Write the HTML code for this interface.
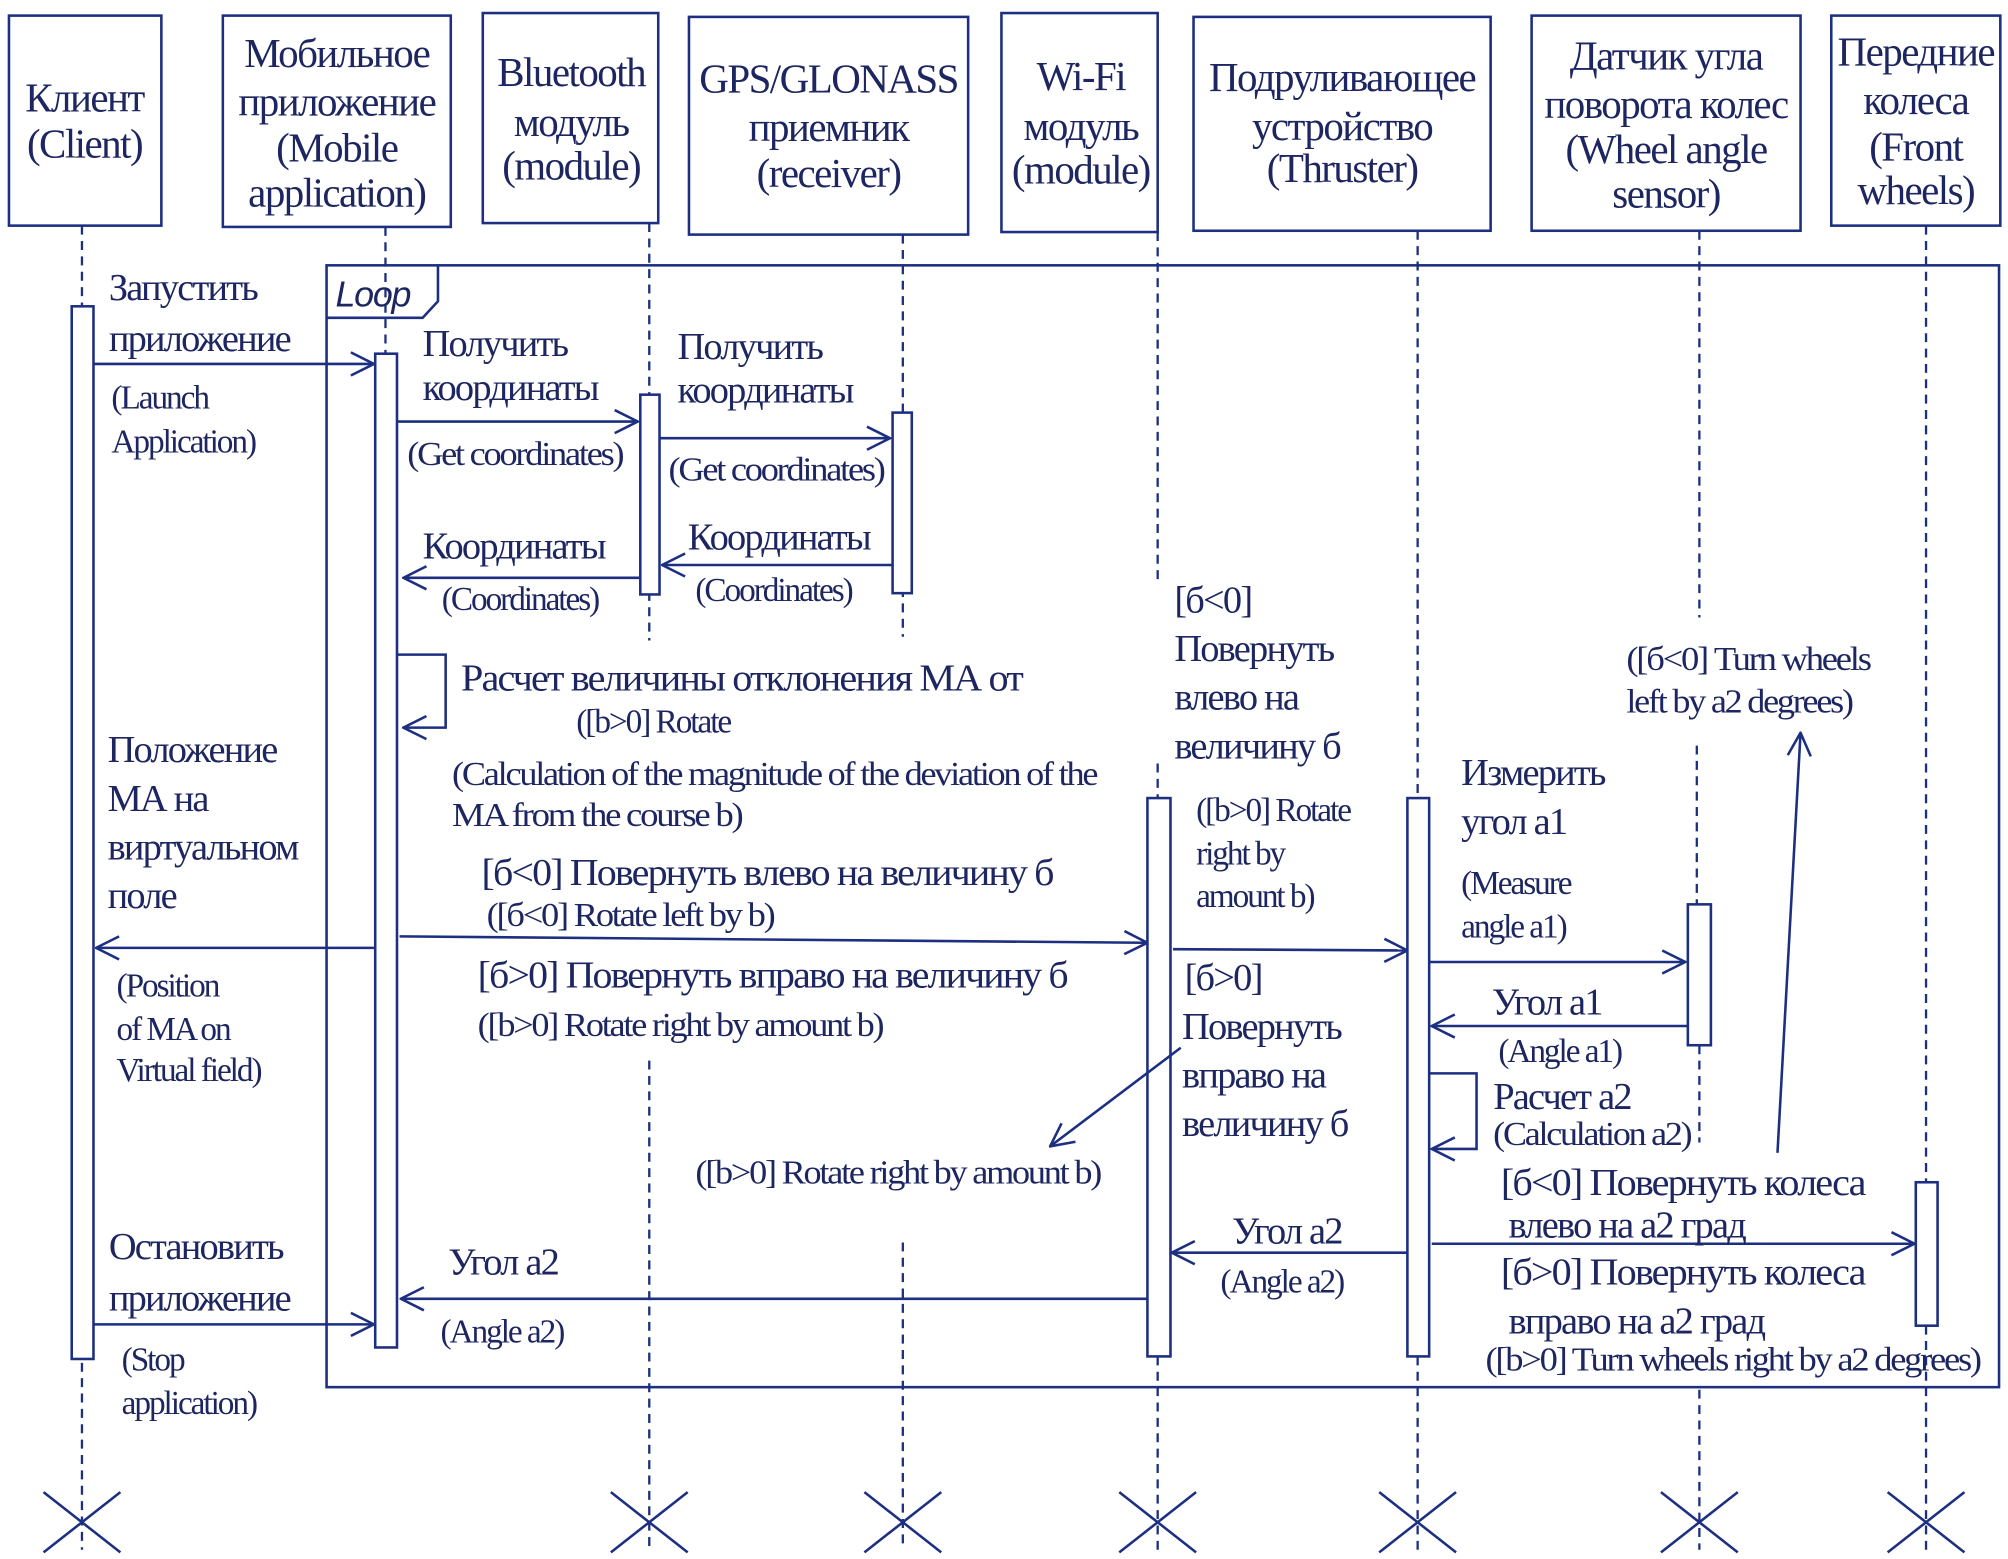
<!DOCTYPE html>
<html><head><meta charset="utf-8"><style>
html,body{margin:0;padding:0;background:#fff;}
svg{display:block;}
text{font-family:"Liberation Serif","Noto Serif CJK SC",serif;fill:#1d2660;font-size:30px;letter-spacing:-1.4px;}
.s{font-size:26px;letter-spacing:-1.6px;}
.h{font-size:32px;letter-spacing:-1.2px;}
.c{text-anchor:middle;}
</style></head><body>
<svg width="2008" height="1559" viewBox="0 0 1568 1217" xmlns="http://www.w3.org/2000/svg">
<defs>
<marker id="a" viewBox="0 0 20 20" refX="19" refY="10" markerWidth="20" markerHeight="20" markerUnits="userSpaceOnUse" orient="auto">
<path d="M1,1 L19,10 L1,19" fill="none" stroke="#1c2f80" stroke-width="2"/></marker>
</defs>
<g fill="none" stroke="#1c2f80" stroke-width="2">
<g stroke-dasharray="7,5" stroke-width="1.8">
<line x1="64" y1="176" x2="64" y2="1210"/>
<line x1="301" y1="177" x2="301" y2="276"/>
<line x1="507" y1="174" x2="507" y2="500"/><line x1="507" y1="828" x2="507" y2="1210"/>
<line x1="705" y1="183" x2="705" y2="497"/><line x1="705" y1="970" x2="705" y2="1210"/>
<line x1="904" y1="181" x2="904" y2="455"/><line x1="904" y1="596" x2="904" y2="623"/><line x1="904" y1="1059" x2="904" y2="1210"/>
<line x1="1107" y1="180" x2="1107" y2="623"/><line x1="1107" y1="1059" x2="1107" y2="1210"/>
<line x1="1327" y1="180" x2="1327" y2="482"/><line x1="1325" y1="582" x2="1325" y2="706"/><line x1="1327" y1="816" x2="1327" y2="892"/><line x1="1327" y1="1085" x2="1327" y2="1210"/>
<line x1="1504" y1="176" x2="1504" y2="923"/><line x1="1504" y1="1035" x2="1504" y2="1210"/>
</g>
<rect x="7" y="12" width="119" height="164"/>
<rect x="174" y="12" width="178" height="165"/>
<rect x="377" y="10" width="137" height="164"/>
<rect x="538" y="13" width="218" height="170"/>
<rect x="782" y="10" width="122" height="171"/>
<rect x="932" y="13" width="232" height="167"/>
<rect x="1196" y="12" width="210" height="168"/>
<rect x="1430" y="12" width="132" height="164"/>
<rect x="255" y="207" width="1306" height="876"/>
<path d="M255,248 L330,248 L342,235 L342,207"/>
<g fill="#fff">
<rect x="56" y="239" width="17" height="822"/>
<rect x="293" y="276" width="17" height="776"/>
<rect x="500" y="308" width="15" height="156"/>
<rect x="697" y="322" width="15" height="141"/>
<rect x="896" y="623" width="18" height="436"/>
<rect x="1099" y="623" width="17" height="436"/>
<rect x="1318" y="706" width="18" height="110"/>
<rect x="1496" y="923" width="17" height="112"/>
</g>
<g marker-end="url(#a)">
<line x1="73" y1="284" x2="292" y2="284"/>
<line x1="310" y1="329" x2="498" y2="329"/>
<line x1="515" y1="342" x2="695" y2="342"/>
<line x1="697" y1="441" x2="517" y2="441"/>
<line x1="500" y1="451" x2="315" y2="451"/>
<path d="M310,511 L348,511 L348,568 L315,568"/>
<line x1="292" y1="740" x2="75" y2="740"/>
<line x1="312" y1="731" x2="896" y2="736"/>
<line x1="916" y1="741" x2="1099" y2="742"/>
<line x1="1116" y1="751" x2="1316" y2="751"/>
<line x1="1318" y1="801" x2="1118" y2="801"/>
<path d="M1116,838 L1153,838 L1153,897 L1118,897"/>
<line x1="922" y1="818" x2="820" y2="895"/>
<line x1="1388" y1="900" x2="1406" y2="572"/>
<line x1="1118" y1="971" x2="1495" y2="971"/>
<line x1="1099" y1="978" x2="915" y2="978"/>
<line x1="896" y1="1014" x2="313" y2="1014"/>
<line x1="73" y1="1034" x2="292" y2="1034"/>
</g>
<g>
<path d="M34,1165 L94,1212 M94,1165 L34,1212"/>
<path d="M477,1165 L537,1212 M537,1165 L477,1212"/>
<path d="M675,1165 L735,1212 M735,1165 L675,1212"/>
<path d="M874,1165 L934,1212 M934,1165 L874,1212"/>
<path d="M1077,1165 L1137,1212 M1137,1165 L1077,1212"/>
<path d="M1297,1165 L1357,1212 M1357,1165 L1297,1212"/>
<path d="M1474,1165 L1534,1212 M1534,1165 L1474,1212"/>
</g>
</g>
<g class="h">
<text class="c h" x="66" y="87">Клиент</text><text class="c h" x="66" y="123">(Client)</text>
<text class="c h" x="263" y="52">Мобильное</text><text class="c h" x="263" y="90">приложение</text><text class="c h" x="263" y="126">(Mobile</text><text class="c h" x="263" y="161">application)</text>
<text class="c h" x="446" y="67">Bluetooth</text><text class="c h" x="446" y="106">модуль</text><text class="c h" x="446" y="140">(module)</text>
<text class="c h" x="647" y="72">GPS/GLONASS</text><text class="c h" x="647" y="110">приемник</text><text class="c h" x="647" y="146">(receiver)</text>
<text class="c h" x="844" y="70">Wi-Fi</text><text class="c h" x="844" y="109">модуль</text><text class="c h" x="844" y="143">(module)</text>
<text class="c h" x="1048" y="71">Подруливающее</text><text class="c h" x="1048" y="109">устройство</text><text class="c h" x="1048" y="142">(Thruster)</text>
<text class="c h" x="1301" y="54">Датчик угла</text><text class="c h" x="1301" y="92">поворота колес</text><text class="c h" x="1301" y="127">(Wheel angle</text><text class="c h" x="1301" y="162">sensor)</text>
<text class="c h" x="1496" y="51">Передние</text><text class="c h" x="1496" y="89">колеса</text><text class="c h" x="1496" y="125">(Front</text><text class="c h" x="1496" y="159">wheels)</text>
</g>
<text x="262" y="239" style="font-family:'Liberation Sans',sans-serif;font-style:italic;font-size:28px;letter-spacing:-1px">Loop</text>
<text x="85" y="234">Запустить</text><text x="85" y="274">приложение</text>
<text class="s" x="87" y="319">(Launch</text><text class="s" x="87" y="353">Application)</text>
<text x="330" y="278">Получить</text><text x="330" y="312">координаты</text><text class="s" x="318" y="363" textLength="168" lengthAdjust="spacingAndGlyphs">(Get coordinates)</text>
<text x="529" y="280">Получить</text><text x="529" y="314">координаты</text><text class="s" x="522" y="375" textLength="168" lengthAdjust="spacingAndGlyphs">(Get coordinates)</text>
<text x="330" y="436">Координаты</text><text class="s" x="345" y="476">(Coordinates)</text>
<text x="537" y="429">Координаты</text><text class="s" x="543" y="469">(Coordinates)</text>
<text x="360" y="539" textLength="438" lengthAdjust="spacingAndGlyphs">Расчет величины отклонения МА от</text>
<text class="s" x="450" y="572">([b&gt;0] Rotate</text>
<text class="s" x="353" y="613" textLength="503" lengthAdjust="spacingAndGlyphs">(Calculation of the magnitude of the deviation of the</text>
<text class="s" x="353" y="645" textLength="226" lengthAdjust="spacingAndGlyphs">MA from the course b)</text>
<text x="84" y="595">Положение</text><text x="84" y="633">МА на</text><text x="84" y="671">виртуальном</text><text x="84" y="709">поле</text>
<text class="s" x="91" y="778">(Position</text><text class="s" x="91" y="812">of MA on</text><text class="s" x="91" y="844">Virtual field)</text>
<text x="376" y="691" textLength="446" lengthAdjust="spacingAndGlyphs">[б&lt;0] Повернуть влево на величину б</text>
<text class="s" x="380" y="723" textLength="224" lengthAdjust="spacingAndGlyphs">([б&lt;0] Rotate left by b)</text>
<text x="373" y="771" textLength="460" lengthAdjust="spacingAndGlyphs">[б&gt;0] Повернуть вправо на величину б</text>
<text class="s" x="373" y="809" textLength="316" lengthAdjust="spacingAndGlyphs">([b&gt;0] Rotate right by amount b)</text>
<text class="s" x="543" y="924" textLength="316" lengthAdjust="spacingAndGlyphs">([b&gt;0] Rotate right by amount b)</text>
<text x="85" y="983">Остановить</text><text x="85" y="1023">приложение</text>
<text class="s" x="95" y="1070">(Stop</text><text class="s" x="95" y="1104">application)</text>
<text x="350" y="995">Угол a2</text><text class="s" x="344" y="1048">(Angle a2)</text>
<text x="917" y="478">[б&lt;0]</text><text x="917" y="516">Повернуть</text><text x="917" y="554">влево на</text><text x="917" y="592">величину б</text>
<text class="s" x="934" y="641">([b&gt;0] Rotate</text><text class="s" x="934" y="675">right by</text><text class="s" x="934" y="708">amount b)</text>
<text x="925" y="773">[б&gt;0]</text><text x="923" y="811">Повернуть</text><text x="923" y="849">вправо на</text><text x="923" y="887">величину б</text>
<text x="962" y="971">Угол a2</text><text class="s" x="953" y="1009">(Angle a2)</text>
<text x="1141" y="613">Измерить</text><text x="1141" y="651">угол a1</text>
<text class="s" x="1141" y="698">(Measure</text><text class="s" x="1141" y="732">angle a1)</text>
<text x="1165" y="792">Угол a1</text><text class="s" x="1170" y="829">(Angle a1)</text>
<text x="1166" y="866">Расчет a2</text><text class="s" x="1166" y="894" textLength="154" lengthAdjust="spacingAndGlyphs">(Calculation a2)</text>
<text class="s" x="1270" y="523" textLength="190" lengthAdjust="spacingAndGlyphs">([б&lt;0] Turn wheels</text><text class="s" x="1270" y="556" textLength="176" lengthAdjust="spacingAndGlyphs">left by a2 degrees)</text>
<text x="1172" y="933" textLength="284" lengthAdjust="spacingAndGlyphs">[б&lt;0] Повернуть колеса</text>
<text x="1178" y="966">влево на a2 град</text>
<text x="1172" y="1003" textLength="284" lengthAdjust="spacingAndGlyphs">[б&gt;0] Повернуть колеса</text>
<text x="1178" y="1041">вправо на a2 град</text>
<text class="s" x="1160" y="1070" textLength="386" lengthAdjust="spacingAndGlyphs">([b&gt;0] Turn wheels right by a2 degrees)</text>
</svg>
</body></html>
